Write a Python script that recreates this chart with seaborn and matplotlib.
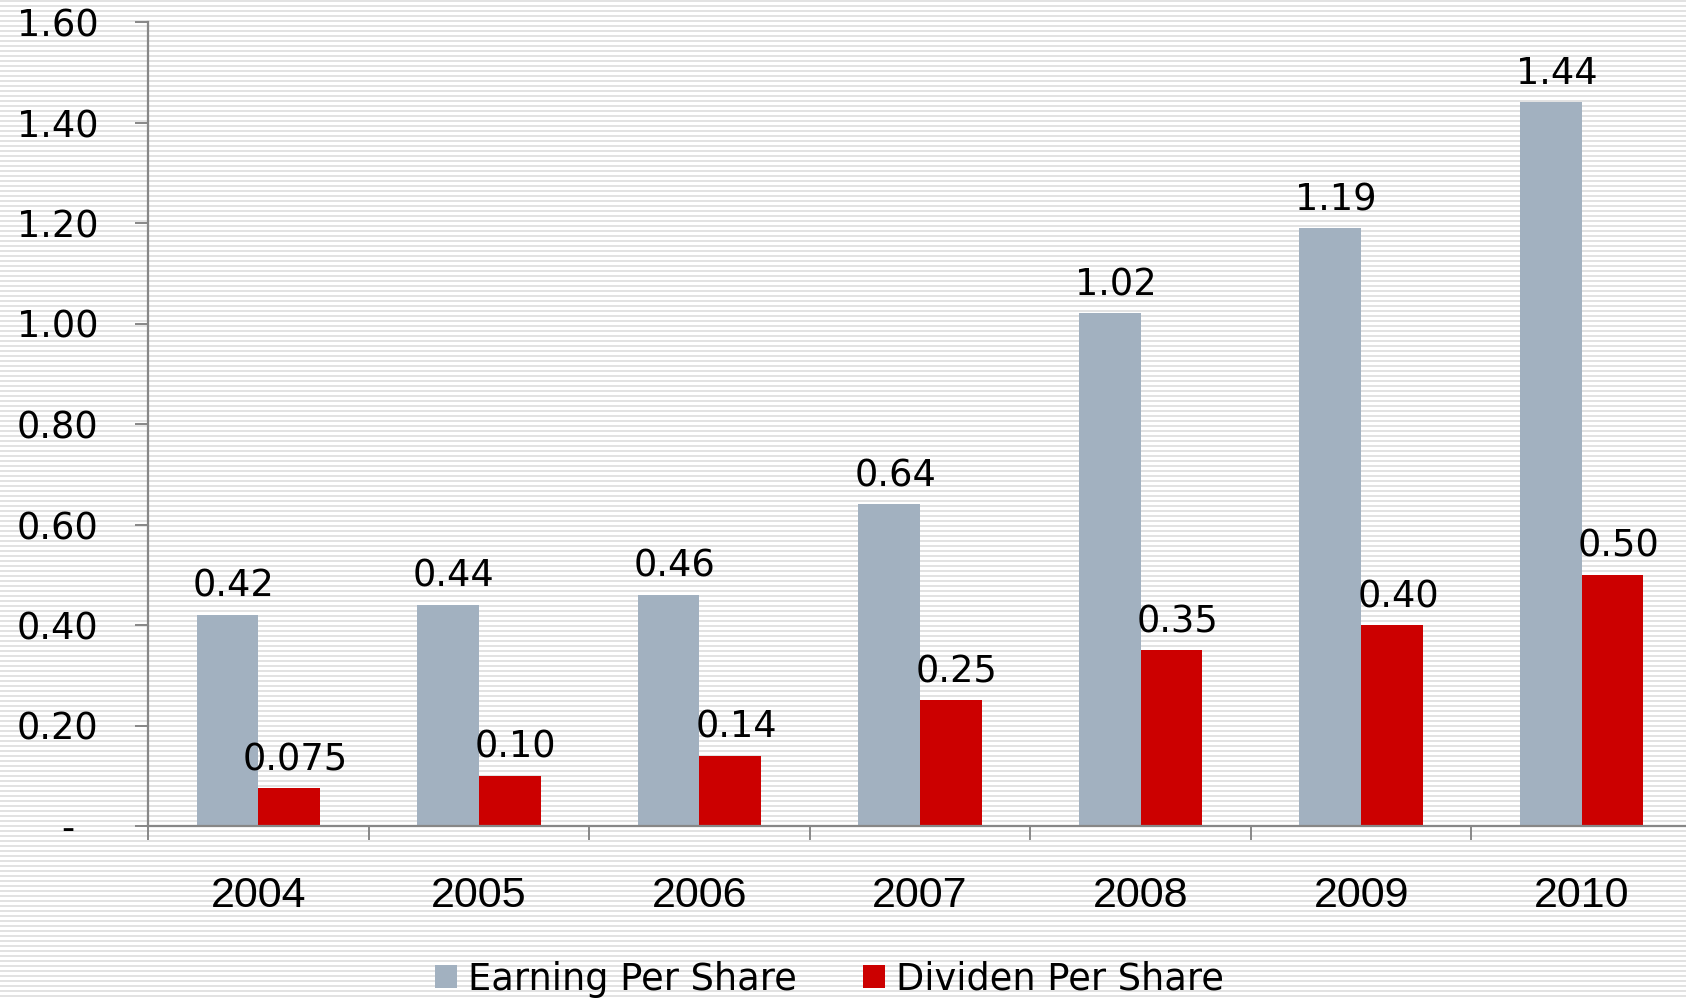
import numpy as np
import pandas as pd
import matplotlib
matplotlib.use("Agg")
import matplotlib.pyplot as plt
import seaborn as sns

years = ['2004', '2005', '2006', '2007', '2008', '2009', '2010']
eps = [0.42, 0.44, 0.46, 0.64, 1.02, 1.19, 1.44]
dps = [0.075, 0.10, 0.14, 0.25, 0.35, 0.40, 0.50]
eps_labels = ['0.42', '0.44', '0.46', '0.64', '1.02', '1.19', '1.44']
dps_labels = ['0.075', '0.10', '0.14', '0.25', '0.35', '0.40', '0.50']
series = ['Earning Per Share', 'Dividen Per Share']
ytick_vals = [0, 0.2, 0.4, 0.6, 0.8, 1.0, 1.2, 1.4, 1.6]
ytick_labels = ['-  ', '0.20', '0.40', '0.60', '0.80', '1.00', '1.20', '1.40', '1.60']

gray = '#a2b1c0'
red = '#cc0000'
axis_col = '#878787'

df = pd.DataFrame({
    'year': years * 2,
    'value': eps + dps,
    'series': [series[0]] * 7 + [series[1]] * 7,
})

sns.set_style('white')
plt.rcParams['font.family'] = ['DejaVu Sans']
plt.rcParams['text.color'] = 'black'
plt.rcParams['xtick.color'] = axis_col
plt.rcParams['ytick.color'] = axis_col
plt.rcParams['xtick.labelcolor'] = 'black'
plt.rcParams['ytick.labelcolor'] = 'black'

fig = plt.figure(figsize=(16.86, 10), dpi=100)
fig.patch.set_facecolor('white')

# striped background over the whole figure
bg = fig.add_axes([0, 0, 1, 1], zorder=-1)
rows = np.zeros((1000, 1))
rows[np.arange(1000) % 5 < 2] = 1
bg.imshow(rows, cmap=matplotlib.colors.ListedColormap(['white', '#e2e2e2']),
          aspect='auto', interpolation='nearest', extent=(0, 1, 0, 1))
bg.axis('off')

ax = fig.add_axes([148 / 1686, 0.174, (1692 - 148) / 1686, 0.804])
ax.patch.set_alpha(0)

sns.barplot(data=df, x='year', y='value', hue='series', palette=[gray, red],
            width=0.56, gap=0, saturation=1, linewidth=0, ax=ax)

handles, labels = ax.get_legend_handles_labels()
ax.get_legend().remove()

# value labels
for cont, labs in zip(ax.containers, [eps_labels, dps_labels]):
    for bar, lab in zip(cont, labs):
        ax.annotate(lab, (bar.get_x() + bar.get_width() / 2, bar.get_height()),
                    xytext=(6, 10), textcoords='offset pixels',
                    ha='center', va='bottom', fontsize=26.5, color='black')

ax.set_ylim(0, 1.6)
ax.set_xlim(-0.5, 6.5)
ax.set_yticks(ytick_vals)
ax.set_yticklabels(ytick_labels, fontsize=26.5)
ax.tick_params(axis='y', left=True, length=9.5, width=1.4, pad=26)

ax.set_xticks(np.arange(-0.5, 7, 1))
ax.set_xticklabels([])
ax.set_xticks(range(7), minor=True)
ax.set_xticklabels(years, minor=True, fontsize=31, family='Liberation Sans')
ax.tick_params(axis='x', which='major', bottom=True, length=10, width=1.4)
ax.tick_params(axis='x', which='minor', bottom=True, length=0, pad=36)

ax.set_xlabel('')
ax.set_ylabel('')
for side in ['top', 'right']:
    ax.spines[side].set_visible(False)
for side in ['left', 'bottom']:
    ax.spines[side].set_color(axis_col)
    ax.spines[side].set_linewidth(1.6)

fig.legend(handles, labels, loc='center', bbox_to_anchor=(0.492, 0.021),
           ncol=2, frameon=False, fontsize=26.5, handlelength=0.6,
           handleheight=0.62, handletextpad=0.3, columnspacing=1.8,
           borderpad=0, borderaxespad=0)

fig.savefig('out.png', dpi=100)
